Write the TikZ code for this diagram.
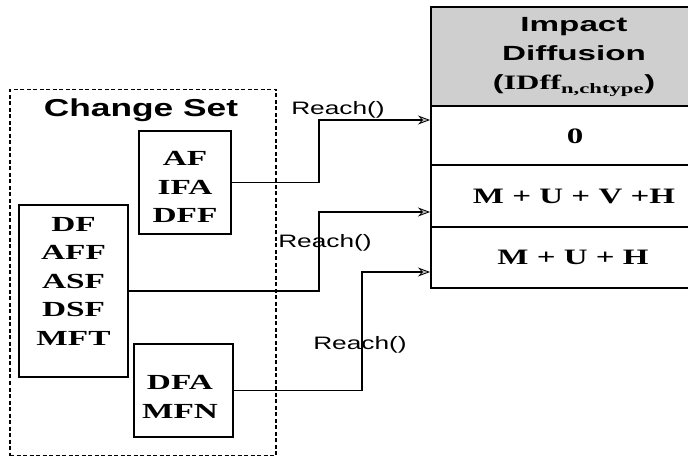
\documentclass[tikz,border=0pt]{standalone}
\usepackage{fontspec}
\setmainfont{Liberation Serif}
\setsansfont{Liberation Sans}
\usetikzlibrary{arrows.meta}
\newcommand\sx[2]{\scalebox{#1}[1]{#2}}
\newcommand\bx[1]{\scalebox{1.55}[1]{#1}}
\newcommand\rx[1]{\scalebox{1.5}[1]{#1}}
\begin{document}
\begin{tikzpicture}[x=1pt,y=-1pt,
  box/.style={draw, line width=1.8pt, inner sep=0pt},
  lbl/.style={align=center, inner sep=0pt, font=\fontsize{21.5}{28.5}\selectfont\bfseries},
  rowtxt/.style={inner sep=0pt, font=\fontsize{22}{26}\selectfont\bfseries},
  cell/.style={draw, line width=1.5pt, minimum width=300, inner sep=0pt, anchor=west},
  rch/.style={inner sep=0pt, font=\fontsize{18}{20}\sffamily},
  conn/.style={line width=1.8pt, -{Stealth[length=12pt,width=9pt,fill=gray!55,line width=0.8pt]}},
  setbox/.style={draw, line width=1.5pt, dash pattern=on 4pt off 2.5pt, inner sep=0pt}
]
\clip (0,0) rectangle (688,457);
\useasboundingbox (0,0) rectangle (688,457);

% change set container
\node[setbox, minimum width=266, minimum height=366] (cs) at (143,272.5) {};
\node[inner sep=0pt, font=\fontsize{24.5}{28}\sffamily\bfseries] (cst) at (141,110) {\sx{1.44}{Change Set}};

% boxes
\node[box, minimum width=92, minimum height=103] (af) at (185,182.5) {};
\node[lbl] (aft) at (185,187) {\bx{AF}\\\bx{IFA}\\\bx{DFF}};
\node[box, minimum width=109, minimum height=172] (df) at (73.5,291) {};
\node[lbl] (dft) at (73.5,281) {\bx{DF}\\\bx{AFF}\\\bx{ASF}\\\bx{DSF}\\\bx{MFT}};
\node[box, minimum width=99, minimum height=93] (dfa) at (183.5,390.5) {};
\node[lbl] (dfat) at (180,397) {\bx{DFA}\\\bx{MFN}};

% table
\node[cell, fill=gray!38, minimum height=99] (hd) at (430,56.5) {};
\node[align=center, inner sep=0pt, font=\fontsize{20.5}{29}\sffamily\bfseries] (hdt) at (574,57)
  {\sx{1.62}{Impact}\\\sx{1.62}{Diffusion}\\
   \sx{1.58}{(\rmfamily IDff\textsubscript{n,chtype}\sffamily)}};
\node[cell, minimum height=59] (r0) at (430,135.5) {};
\node[cell, minimum height=62] (r1) at (430,196) {};
\node[cell, minimum height=61] (r2) at (430,257.5) {};
\node[rowtxt] (r0t) at (575,136) {\rx{0}};
\node[rowtxt] (r1t) at (574,196) {\rx{M + U + V +H}};
\node[rowtxt] (r2t) at (573,257) {\rx{M + U + H}};

% connector points
\coordinate (k1) at (319,120);
\coordinate (t1) at (430,120);
\coordinate (k2) at (319,212);
\coordinate (t2) at (430,212);
\coordinate (k3) at (362,272);
\coordinate (t3) at (430,272);

\draw[conn] (af.east) -| (k1) -- (t1);
\draw[conn] (df.east) -| (k2) -- (t2);
\draw[conn] (dfa.east) -| (k3) -- (t3);

% labels
\node[rch] (l1) at (338,110) {\sx{1.46}{Reach()}};
\node[rch] (l2) at (325,243) {\sx{1.46}{Reach()}};
\node[rch] (l3) at (360,345) {\sx{1.46}{Reach()}};
\end{tikzpicture}
\end{document}
